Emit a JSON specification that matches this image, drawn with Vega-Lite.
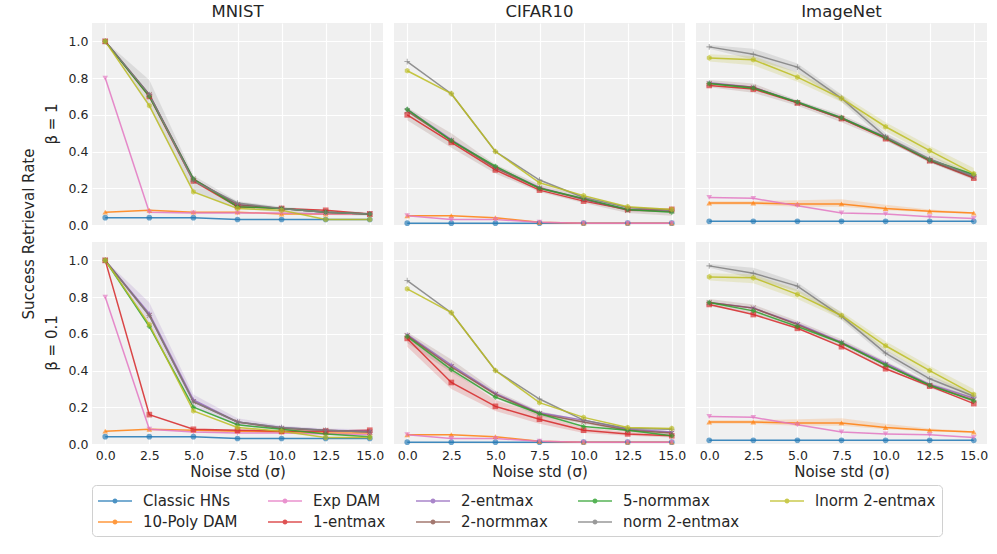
{
"$schema":"https://vega.github.io/schema/vega-lite/v6.json",
"background":"white",
"padding":{"left":21,"top":3,"right":5,"bottom":5},
"config":{"font":"DejaVu Sans","view":{"fill":"#f0f0f0","stroke":null},
"axis":{"labelFontSize":12.5,"labelColor":"#262626","titleFontSize":15,"titleFontWeight":"normal","titleColor":"#262626","gridColor":"#ffffff","gridWidth":1.2,"domain":false,"ticks":false,"labelPadding":3},
"header":{"labelColor":"#262626","titleColor":"#262626"}},
"data":{"values":[
{"b":"β = 1","d":"MNIST","s":"Classic HNs","x":0,"y":0.04},{"b":"β = 1","d":"MNIST","s":"Classic HNs","x":2.5,"y":0.04},{"b":"β = 1","d":"MNIST","s":"Classic HNs","x":5,"y":0.04},{"b":"β = 1","d":"MNIST","s":"Classic HNs","x":7.5,"y":0.03},{"b":"β = 1","d":"MNIST","s":"Classic HNs","x":10,"y":0.03},{"b":"β = 1","d":"MNIST","s":"Classic HNs","x":12.5,"y":0.03},{"b":"β = 1","d":"MNIST","s":"Classic HNs","x":15,"y":0.03},
{"b":"β = 1","d":"MNIST","s":"10-Poly DAM","x":0,"y":0.07},{"b":"β = 1","d":"MNIST","s":"10-Poly DAM","x":2.5,"y":0.08},{"b":"β = 1","d":"MNIST","s":"10-Poly DAM","x":5,"y":0.07},{"b":"β = 1","d":"MNIST","s":"10-Poly DAM","x":7.5,"y":0.07},{"b":"β = 1","d":"MNIST","s":"10-Poly DAM","x":10,"y":0.06},{"b":"β = 1","d":"MNIST","s":"10-Poly DAM","x":12.5,"y":0.06},{"b":"β = 1","d":"MNIST","s":"10-Poly DAM","x":15,"y":0.06},
{"b":"β = 1","d":"MNIST","s":"Exp DAM","x":0,"y":0.8},{"b":"β = 1","d":"MNIST","s":"Exp DAM","x":2.5,"y":0.07},{"b":"β = 1","d":"MNIST","s":"Exp DAM","x":5,"y":0.065},{"b":"β = 1","d":"MNIST","s":"Exp DAM","x":7.5,"y":0.065},{"b":"β = 1","d":"MNIST","s":"Exp DAM","x":10,"y":0.065},{"b":"β = 1","d":"MNIST","s":"Exp DAM","x":12.5,"y":0.06},{"b":"β = 1","d":"MNIST","s":"Exp DAM","x":15,"y":0.06},
{"b":"β = 1","d":"MNIST","s":"1-entmax","x":0,"y":1.0},{"b":"β = 1","d":"MNIST","s":"1-entmax","x":2.5,"y":0.7},{"b":"β = 1","d":"MNIST","s":"1-entmax","x":5,"y":0.24},{"b":"β = 1","d":"MNIST","s":"1-entmax","x":7.5,"y":0.1},{"b":"β = 1","d":"MNIST","s":"1-entmax","x":10,"y":0.09},{"b":"β = 1","d":"MNIST","s":"1-entmax","x":12.5,"y":0.08},{"b":"β = 1","d":"MNIST","s":"1-entmax","x":15,"y":0.06},
{"b":"β = 1","d":"MNIST","s":"2-entmax","x":0,"y":1.0},{"b":"β = 1","d":"MNIST","s":"2-entmax","x":2.5,"y":0.71},{"b":"β = 1","d":"MNIST","s":"2-entmax","x":5,"y":0.25},{"b":"β = 1","d":"MNIST","s":"2-entmax","x":7.5,"y":0.11},{"b":"β = 1","d":"MNIST","s":"2-entmax","x":10,"y":0.09},{"b":"β = 1","d":"MNIST","s":"2-entmax","x":12.5,"y":0.07},{"b":"β = 1","d":"MNIST","s":"2-entmax","x":15,"y":0.06},
{"b":"β = 1","d":"MNIST","s":"2-normmax","x":0,"y":1.0},{"b":"β = 1","d":"MNIST","s":"2-normmax","x":2.5,"y":0.71},{"b":"β = 1","d":"MNIST","s":"2-normmax","x":5,"y":0.25},{"b":"β = 1","d":"MNIST","s":"2-normmax","x":7.5,"y":0.11},{"b":"β = 1","d":"MNIST","s":"2-normmax","x":10,"y":0.09},{"b":"β = 1","d":"MNIST","s":"2-normmax","x":12.5,"y":0.07},{"b":"β = 1","d":"MNIST","s":"2-normmax","x":15,"y":0.06},
{"b":"β = 1","d":"MNIST","s":"5-normmax","x":0,"y":1.0},{"b":"β = 1","d":"MNIST","s":"5-normmax","x":2.5,"y":0.7},{"b":"β = 1","d":"MNIST","s":"5-normmax","x":5,"y":0.25},{"b":"β = 1","d":"MNIST","s":"5-normmax","x":7.5,"y":0.1},{"b":"β = 1","d":"MNIST","s":"5-normmax","x":10,"y":0.09},{"b":"β = 1","d":"MNIST","s":"5-normmax","x":12.5,"y":0.07},{"b":"β = 1","d":"MNIST","s":"5-normmax","x":15,"y":0.06},
{"b":"β = 1","d":"MNIST","s":"norm 2-entmax","x":0,"y":1.0,"lo":1.0,"hi":1.0},{"b":"β = 1","d":"MNIST","s":"norm 2-entmax","x":2.5,"y":0.71,"lo":0.64,"hi":0.79},{"b":"β = 1","d":"MNIST","s":"norm 2-entmax","x":5,"y":0.24,"lo":0.18,"hi":0.27},{"b":"β = 1","d":"MNIST","s":"norm 2-entmax","x":7.5,"y":0.12,"lo":0.09,"hi":0.13},{"b":"β = 1","d":"MNIST","s":"norm 2-entmax","x":10,"y":0.09,"lo":0.07,"hi":0.1},{"b":"β = 1","d":"MNIST","s":"norm 2-entmax","x":12.5,"y":0.07,"lo":0.055,"hi":0.08},{"b":"β = 1","d":"MNIST","s":"norm 2-entmax","x":15,"y":0.06,"lo":0.05,"hi":0.07},
{"b":"β = 1","d":"MNIST","s":"lnorm 2-entmax","x":0,"y":1.0},{"b":"β = 1","d":"MNIST","s":"lnorm 2-entmax","x":2.5,"y":0.65},{"b":"β = 1","d":"MNIST","s":"lnorm 2-entmax","x":5,"y":0.18},{"b":"β = 1","d":"MNIST","s":"lnorm 2-entmax","x":7.5,"y":0.09},{"b":"β = 1","d":"MNIST","s":"lnorm 2-entmax","x":10,"y":0.08},{"b":"β = 1","d":"MNIST","s":"lnorm 2-entmax","x":12.5,"y":0.03},{"b":"β = 1","d":"MNIST","s":"lnorm 2-entmax","x":15,"y":0.03},

{"b":"β = 1","d":"CIFAR10","s":"Classic HNs","x":0,"y":0.01},{"b":"β = 1","d":"CIFAR10","s":"Classic HNs","x":2.5,"y":0.01},{"b":"β = 1","d":"CIFAR10","s":"Classic HNs","x":5,"y":0.01},{"b":"β = 1","d":"CIFAR10","s":"Classic HNs","x":7.5,"y":0.01},{"b":"β = 1","d":"CIFAR10","s":"Classic HNs","x":10,"y":0.01},{"b":"β = 1","d":"CIFAR10","s":"Classic HNs","x":12.5,"y":0.01},{"b":"β = 1","d":"CIFAR10","s":"Classic HNs","x":15,"y":0.01},
{"b":"β = 1","d":"CIFAR10","s":"10-Poly DAM","x":0,"y":0.05},{"b":"β = 1","d":"CIFAR10","s":"10-Poly DAM","x":2.5,"y":0.05},{"b":"β = 1","d":"CIFAR10","s":"10-Poly DAM","x":5,"y":0.04},{"b":"β = 1","d":"CIFAR10","s":"10-Poly DAM","x":7.5,"y":0.015},{"b":"β = 1","d":"CIFAR10","s":"10-Poly DAM","x":10,"y":0.01},{"b":"β = 1","d":"CIFAR10","s":"10-Poly DAM","x":12.5,"y":0.01},{"b":"β = 1","d":"CIFAR10","s":"10-Poly DAM","x":15,"y":0.01},
{"b":"β = 1","d":"CIFAR10","s":"Exp DAM","x":0,"y":0.05},{"b":"β = 1","d":"CIFAR10","s":"Exp DAM","x":2.5,"y":0.03},{"b":"β = 1","d":"CIFAR10","s":"Exp DAM","x":5,"y":0.03},{"b":"β = 1","d":"CIFAR10","s":"Exp DAM","x":7.5,"y":0.015},{"b":"β = 1","d":"CIFAR10","s":"Exp DAM","x":10,"y":0.01},{"b":"β = 1","d":"CIFAR10","s":"Exp DAM","x":12.5,"y":0.01},{"b":"β = 1","d":"CIFAR10","s":"Exp DAM","x":15,"y":0.01},
{"b":"β = 1","d":"CIFAR10","s":"1-entmax","x":0,"y":0.6},{"b":"β = 1","d":"CIFAR10","s":"1-entmax","x":2.5,"y":0.45},{"b":"β = 1","d":"CIFAR10","s":"1-entmax","x":5,"y":0.3},{"b":"β = 1","d":"CIFAR10","s":"1-entmax","x":7.5,"y":0.19},{"b":"β = 1","d":"CIFAR10","s":"1-entmax","x":10,"y":0.13},{"b":"β = 1","d":"CIFAR10","s":"1-entmax","x":12.5,"y":0.085},{"b":"β = 1","d":"CIFAR10","s":"1-entmax","x":15,"y":0.085},
{"b":"β = 1","d":"CIFAR10","s":"2-entmax","x":0,"y":0.63},{"b":"β = 1","d":"CIFAR10","s":"2-entmax","x":2.5,"y":0.465},{"b":"β = 1","d":"CIFAR10","s":"2-entmax","x":5,"y":0.315},{"b":"β = 1","d":"CIFAR10","s":"2-entmax","x":7.5,"y":0.205},{"b":"β = 1","d":"CIFAR10","s":"2-entmax","x":10,"y":0.14},{"b":"β = 1","d":"CIFAR10","s":"2-entmax","x":12.5,"y":0.085},{"b":"β = 1","d":"CIFAR10","s":"2-entmax","x":15,"y":0.075},
{"b":"β = 1","d":"CIFAR10","s":"2-normmax","x":0,"y":0.62,"lo":0.57,"hi":0.64},{"b":"β = 1","d":"CIFAR10","s":"2-normmax","x":2.5,"y":0.46,"lo":0.42,"hi":0.5},{"b":"β = 1","d":"CIFAR10","s":"2-normmax","x":5,"y":0.31,"lo":0.28,"hi":0.33},{"b":"β = 1","d":"CIFAR10","s":"2-normmax","x":7.5,"y":0.2,"lo":0.18,"hi":0.22},{"b":"β = 1","d":"CIFAR10","s":"2-normmax","x":10,"y":0.14,"lo":0.12,"hi":0.16},{"b":"β = 1","d":"CIFAR10","s":"2-normmax","x":12.5,"y":0.08,"lo":0.065,"hi":0.1},{"b":"β = 1","d":"CIFAR10","s":"2-normmax","x":15,"y":0.075,"lo":0.05,"hi":0.09},
{"b":"β = 1","d":"CIFAR10","s":"5-normmax","x":0,"y":0.63},{"b":"β = 1","d":"CIFAR10","s":"5-normmax","x":2.5,"y":0.46},{"b":"β = 1","d":"CIFAR10","s":"5-normmax","x":5,"y":0.32},{"b":"β = 1","d":"CIFAR10","s":"5-normmax","x":7.5,"y":0.2},{"b":"β = 1","d":"CIFAR10","s":"5-normmax","x":10,"y":0.145},{"b":"β = 1","d":"CIFAR10","s":"5-normmax","x":12.5,"y":0.085},{"b":"β = 1","d":"CIFAR10","s":"5-normmax","x":15,"y":0.07},
{"b":"β = 1","d":"CIFAR10","s":"norm 2-entmax","x":0,"y":0.89},{"b":"β = 1","d":"CIFAR10","s":"norm 2-entmax","x":2.5,"y":0.715},{"b":"β = 1","d":"CIFAR10","s":"norm 2-entmax","x":5,"y":0.4},{"b":"β = 1","d":"CIFAR10","s":"norm 2-entmax","x":7.5,"y":0.245},{"b":"β = 1","d":"CIFAR10","s":"norm 2-entmax","x":10,"y":0.15},{"b":"β = 1","d":"CIFAR10","s":"norm 2-entmax","x":12.5,"y":0.095},{"b":"β = 1","d":"CIFAR10","s":"norm 2-entmax","x":15,"y":0.08},
{"b":"β = 1","d":"CIFAR10","s":"lnorm 2-entmax","x":0,"y":0.84},{"b":"β = 1","d":"CIFAR10","s":"lnorm 2-entmax","x":2.5,"y":0.715},{"b":"β = 1","d":"CIFAR10","s":"lnorm 2-entmax","x":5,"y":0.4},{"b":"β = 1","d":"CIFAR10","s":"lnorm 2-entmax","x":7.5,"y":0.23},{"b":"β = 1","d":"CIFAR10","s":"lnorm 2-entmax","x":10,"y":0.16},{"b":"β = 1","d":"CIFAR10","s":"lnorm 2-entmax","x":12.5,"y":0.1},{"b":"β = 1","d":"CIFAR10","s":"lnorm 2-entmax","x":15,"y":0.085},

{"b":"β = 1","d":"ImageNet","s":"Classic HNs","x":0,"y":0.02},{"b":"β = 1","d":"ImageNet","s":"Classic HNs","x":2.5,"y":0.02},{"b":"β = 1","d":"ImageNet","s":"Classic HNs","x":5,"y":0.02},{"b":"β = 1","d":"ImageNet","s":"Classic HNs","x":7.5,"y":0.02},{"b":"β = 1","d":"ImageNet","s":"Classic HNs","x":10,"y":0.02},{"b":"β = 1","d":"ImageNet","s":"Classic HNs","x":12.5,"y":0.02},{"b":"β = 1","d":"ImageNet","s":"Classic HNs","x":15,"y":0.02},
{"b":"β = 1","d":"ImageNet","s":"10-Poly DAM","x":0,"y":0.12,"lo":0.11,"hi":0.13},{"b":"β = 1","d":"ImageNet","s":"10-Poly DAM","x":2.5,"y":0.12,"lo":0.11,"hi":0.13},{"b":"β = 1","d":"ImageNet","s":"10-Poly DAM","x":5,"y":0.115,"lo":0.1,"hi":0.135},{"b":"β = 1","d":"ImageNet","s":"10-Poly DAM","x":7.5,"y":0.115,"lo":0.1,"hi":0.14},{"b":"β = 1","d":"ImageNet","s":"10-Poly DAM","x":10,"y":0.09,"lo":0.08,"hi":0.11},{"b":"β = 1","d":"ImageNet","s":"10-Poly DAM","x":12.5,"y":0.075,"lo":0.07,"hi":0.085},{"b":"β = 1","d":"ImageNet","s":"10-Poly DAM","x":15,"y":0.065,"lo":0.06,"hi":0.07},
{"b":"β = 1","d":"ImageNet","s":"Exp DAM","x":0,"y":0.15},{"b":"β = 1","d":"ImageNet","s":"Exp DAM","x":2.5,"y":0.145},{"b":"β = 1","d":"ImageNet","s":"Exp DAM","x":5,"y":0.105},{"b":"β = 1","d":"ImageNet","s":"Exp DAM","x":7.5,"y":0.065},{"b":"β = 1","d":"ImageNet","s":"Exp DAM","x":10,"y":0.06},{"b":"β = 1","d":"ImageNet","s":"Exp DAM","x":12.5,"y":0.045},{"b":"β = 1","d":"ImageNet","s":"Exp DAM","x":15,"y":0.035},
{"b":"β = 1","d":"ImageNet","s":"1-entmax","x":0,"y":0.76},{"b":"β = 1","d":"ImageNet","s":"1-entmax","x":2.5,"y":0.74},{"b":"β = 1","d":"ImageNet","s":"1-entmax","x":5,"y":0.665},{"b":"β = 1","d":"ImageNet","s":"1-entmax","x":7.5,"y":0.58},{"b":"β = 1","d":"ImageNet","s":"1-entmax","x":10,"y":0.47},{"b":"β = 1","d":"ImageNet","s":"1-entmax","x":12.5,"y":0.35},{"b":"β = 1","d":"ImageNet","s":"1-entmax","x":15,"y":0.255},
{"b":"β = 1","d":"ImageNet","s":"2-entmax","x":0,"y":0.775},{"b":"β = 1","d":"ImageNet","s":"2-entmax","x":2.5,"y":0.75},{"b":"β = 1","d":"ImageNet","s":"2-entmax","x":5,"y":0.67},{"b":"β = 1","d":"ImageNet","s":"2-entmax","x":7.5,"y":0.585},{"b":"β = 1","d":"ImageNet","s":"2-entmax","x":10,"y":0.48},{"b":"β = 1","d":"ImageNet","s":"2-entmax","x":12.5,"y":0.355},{"b":"β = 1","d":"ImageNet","s":"2-entmax","x":15,"y":0.27},
{"b":"β = 1","d":"ImageNet","s":"2-normmax","x":0,"y":0.77,"lo":0.75,"hi":0.79},{"b":"β = 1","d":"ImageNet","s":"2-normmax","x":2.5,"y":0.75,"lo":0.72,"hi":0.77},{"b":"β = 1","d":"ImageNet","s":"2-normmax","x":5,"y":0.665,"lo":0.65,"hi":0.68},{"b":"β = 1","d":"ImageNet","s":"2-normmax","x":7.5,"y":0.58,"lo":0.56,"hi":0.6},{"b":"β = 1","d":"ImageNet","s":"2-normmax","x":10,"y":0.475,"lo":0.46,"hi":0.49},{"b":"β = 1","d":"ImageNet","s":"2-normmax","x":12.5,"y":0.35,"lo":0.34,"hi":0.365},{"b":"β = 1","d":"ImageNet","s":"2-normmax","x":15,"y":0.26,"lo":0.245,"hi":0.275},
{"b":"β = 1","d":"ImageNet","s":"5-normmax","x":0,"y":0.77},{"b":"β = 1","d":"ImageNet","s":"5-normmax","x":2.5,"y":0.745},{"b":"β = 1","d":"ImageNet","s":"5-normmax","x":5,"y":0.67},{"b":"β = 1","d":"ImageNet","s":"5-normmax","x":7.5,"y":0.585},{"b":"β = 1","d":"ImageNet","s":"5-normmax","x":10,"y":0.475},{"b":"β = 1","d":"ImageNet","s":"5-normmax","x":12.5,"y":0.355},{"b":"β = 1","d":"ImageNet","s":"5-normmax","x":15,"y":0.275},
{"b":"β = 1","d":"ImageNet","s":"norm 2-entmax","x":0,"y":0.97,"lo":0.96,"hi":0.98},{"b":"β = 1","d":"ImageNet","s":"norm 2-entmax","x":2.5,"y":0.93,"lo":0.9,"hi":0.96},{"b":"β = 1","d":"ImageNet","s":"norm 2-entmax","x":5,"y":0.86,"lo":0.83,"hi":0.88},{"b":"β = 1","d":"ImageNet","s":"norm 2-entmax","x":7.5,"y":0.69,"lo":0.67,"hi":0.71},{"b":"β = 1","d":"ImageNet","s":"norm 2-entmax","x":10,"y":0.48,"lo":0.46,"hi":0.5},{"b":"β = 1","d":"ImageNet","s":"norm 2-entmax","x":12.5,"y":0.36,"lo":0.34,"hi":0.38},{"b":"β = 1","d":"ImageNet","s":"norm 2-entmax","x":15,"y":0.265,"lo":0.25,"hi":0.28},
{"b":"β = 1","d":"ImageNet","s":"lnorm 2-entmax","x":0,"y":0.91,"lo":0.89,"hi":0.93},{"b":"β = 1","d":"ImageNet","s":"lnorm 2-entmax","x":2.5,"y":0.9,"lo":0.87,"hi":0.92},{"b":"β = 1","d":"ImageNet","s":"lnorm 2-entmax","x":5,"y":0.805,"lo":0.78,"hi":0.83},{"b":"β = 1","d":"ImageNet","s":"lnorm 2-entmax","x":7.5,"y":0.69,"lo":0.67,"hi":0.71},{"b":"β = 1","d":"ImageNet","s":"lnorm 2-entmax","x":10,"y":0.535,"lo":0.51,"hi":0.56},{"b":"β = 1","d":"ImageNet","s":"lnorm 2-entmax","x":12.5,"y":0.405,"lo":0.38,"hi":0.43},{"b":"β = 1","d":"ImageNet","s":"lnorm 2-entmax","x":15,"y":0.28,"lo":0.25,"hi":0.31},

{"b":"β = 0.1","d":"MNIST","s":"Classic HNs","x":0,"y":0.04},{"b":"β = 0.1","d":"MNIST","s":"Classic HNs","x":2.5,"y":0.04},{"b":"β = 0.1","d":"MNIST","s":"Classic HNs","x":5,"y":0.04},{"b":"β = 0.1","d":"MNIST","s":"Classic HNs","x":7.5,"y":0.03},{"b":"β = 0.1","d":"MNIST","s":"Classic HNs","x":10,"y":0.03},{"b":"β = 0.1","d":"MNIST","s":"Classic HNs","x":12.5,"y":0.03},{"b":"β = 0.1","d":"MNIST","s":"Classic HNs","x":15,"y":0.03},
{"b":"β = 0.1","d":"MNIST","s":"10-Poly DAM","x":0,"y":0.07},{"b":"β = 0.1","d":"MNIST","s":"10-Poly DAM","x":2.5,"y":0.08},{"b":"β = 0.1","d":"MNIST","s":"10-Poly DAM","x":5,"y":0.075},{"b":"β = 0.1","d":"MNIST","s":"10-Poly DAM","x":7.5,"y":0.07},{"b":"β = 0.1","d":"MNIST","s":"10-Poly DAM","x":10,"y":0.065},{"b":"β = 0.1","d":"MNIST","s":"10-Poly DAM","x":12.5,"y":0.06},{"b":"β = 0.1","d":"MNIST","s":"10-Poly DAM","x":15,"y":0.06},
{"b":"β = 0.1","d":"MNIST","s":"Exp DAM","x":0,"y":0.8},{"b":"β = 0.1","d":"MNIST","s":"Exp DAM","x":2.5,"y":0.08},{"b":"β = 0.1","d":"MNIST","s":"Exp DAM","x":5,"y":0.065},{"b":"β = 0.1","d":"MNIST","s":"Exp DAM","x":7.5,"y":0.06},{"b":"β = 0.1","d":"MNIST","s":"Exp DAM","x":10,"y":0.06},{"b":"β = 0.1","d":"MNIST","s":"Exp DAM","x":12.5,"y":0.055},{"b":"β = 0.1","d":"MNIST","s":"Exp DAM","x":15,"y":0.05},
{"b":"β = 0.1","d":"MNIST","s":"1-entmax","x":0,"y":1.0},{"b":"β = 0.1","d":"MNIST","s":"1-entmax","x":2.5,"y":0.16},{"b":"β = 0.1","d":"MNIST","s":"1-entmax","x":5,"y":0.08},{"b":"β = 0.1","d":"MNIST","s":"1-entmax","x":7.5,"y":0.075},{"b":"β = 0.1","d":"MNIST","s":"1-entmax","x":10,"y":0.07},{"b":"β = 0.1","d":"MNIST","s":"1-entmax","x":12.5,"y":0.07},{"b":"β = 0.1","d":"MNIST","s":"1-entmax","x":15,"y":0.075},
{"b":"β = 0.1","d":"MNIST","s":"2-entmax","x":0,"y":1.0,"lo":1.0,"hi":1.0},{"b":"β = 0.1","d":"MNIST","s":"2-entmax","x":2.5,"y":0.71,"lo":0.65,"hi":0.77},{"b":"β = 0.1","d":"MNIST","s":"2-entmax","x":5,"y":0.24,"lo":0.2,"hi":0.27},{"b":"β = 0.1","d":"MNIST","s":"2-entmax","x":7.5,"y":0.12,"lo":0.1,"hi":0.14},{"b":"β = 0.1","d":"MNIST","s":"2-entmax","x":10,"y":0.09,"lo":0.075,"hi":0.1},{"b":"β = 0.1","d":"MNIST","s":"2-entmax","x":12.5,"y":0.075,"lo":0.065,"hi":0.085},{"b":"β = 0.1","d":"MNIST","s":"2-entmax","x":15,"y":0.07,"lo":0.06,"hi":0.08},
{"b":"β = 0.1","d":"MNIST","s":"2-normmax","x":0,"y":1.0},{"b":"β = 0.1","d":"MNIST","s":"2-normmax","x":2.5,"y":0.7},{"b":"β = 0.1","d":"MNIST","s":"2-normmax","x":5,"y":0.23},{"b":"β = 0.1","d":"MNIST","s":"2-normmax","x":7.5,"y":0.12},{"b":"β = 0.1","d":"MNIST","s":"2-normmax","x":10,"y":0.085},{"b":"β = 0.1","d":"MNIST","s":"2-normmax","x":12.5,"y":0.075},{"b":"β = 0.1","d":"MNIST","s":"2-normmax","x":15,"y":0.065},
{"b":"β = 0.1","d":"MNIST","s":"5-normmax","x":0,"y":1.0},{"b":"β = 0.1","d":"MNIST","s":"5-normmax","x":2.5,"y":0.64},{"b":"β = 0.1","d":"MNIST","s":"5-normmax","x":5,"y":0.2},{"b":"β = 0.1","d":"MNIST","s":"5-normmax","x":7.5,"y":0.105},{"b":"β = 0.1","d":"MNIST","s":"5-normmax","x":10,"y":0.08},{"b":"β = 0.1","d":"MNIST","s":"5-normmax","x":12.5,"y":0.055},{"b":"β = 0.1","d":"MNIST","s":"5-normmax","x":15,"y":0.04},
{"b":"β = 0.1","d":"MNIST","s":"norm 2-entmax","x":0,"y":1.0},{"b":"β = 0.1","d":"MNIST","s":"norm 2-entmax","x":2.5,"y":0.7},{"b":"β = 0.1","d":"MNIST","s":"norm 2-entmax","x":5,"y":0.23},{"b":"β = 0.1","d":"MNIST","s":"norm 2-entmax","x":7.5,"y":0.12},{"b":"β = 0.1","d":"MNIST","s":"norm 2-entmax","x":10,"y":0.09},{"b":"β = 0.1","d":"MNIST","s":"norm 2-entmax","x":12.5,"y":0.075},{"b":"β = 0.1","d":"MNIST","s":"norm 2-entmax","x":15,"y":0.065},
{"b":"β = 0.1","d":"MNIST","s":"lnorm 2-entmax","x":0,"y":1.0},{"b":"β = 0.1","d":"MNIST","s":"lnorm 2-entmax","x":2.5,"y":0.65},{"b":"β = 0.1","d":"MNIST","s":"lnorm 2-entmax","x":5,"y":0.18},{"b":"β = 0.1","d":"MNIST","s":"lnorm 2-entmax","x":7.5,"y":0.09},{"b":"β = 0.1","d":"MNIST","s":"lnorm 2-entmax","x":10,"y":0.07},{"b":"β = 0.1","d":"MNIST","s":"lnorm 2-entmax","x":12.5,"y":0.035},{"b":"β = 0.1","d":"MNIST","s":"lnorm 2-entmax","x":15,"y":0.035},

{"b":"β = 0.1","d":"CIFAR10","s":"Classic HNs","x":0,"y":0.01},{"b":"β = 0.1","d":"CIFAR10","s":"Classic HNs","x":2.5,"y":0.01},{"b":"β = 0.1","d":"CIFAR10","s":"Classic HNs","x":5,"y":0.01},{"b":"β = 0.1","d":"CIFAR10","s":"Classic HNs","x":7.5,"y":0.01},{"b":"β = 0.1","d":"CIFAR10","s":"Classic HNs","x":10,"y":0.01},{"b":"β = 0.1","d":"CIFAR10","s":"Classic HNs","x":12.5,"y":0.01},{"b":"β = 0.1","d":"CIFAR10","s":"Classic HNs","x":15,"y":0.01},
{"b":"β = 0.1","d":"CIFAR10","s":"10-Poly DAM","x":0,"y":0.05},{"b":"β = 0.1","d":"CIFAR10","s":"10-Poly DAM","x":2.5,"y":0.05},{"b":"β = 0.1","d":"CIFAR10","s":"10-Poly DAM","x":5,"y":0.04},{"b":"β = 0.1","d":"CIFAR10","s":"10-Poly DAM","x":7.5,"y":0.015},{"b":"β = 0.1","d":"CIFAR10","s":"10-Poly DAM","x":10,"y":0.01},{"b":"β = 0.1","d":"CIFAR10","s":"10-Poly DAM","x":12.5,"y":0.01},{"b":"β = 0.1","d":"CIFAR10","s":"10-Poly DAM","x":15,"y":0.01},
{"b":"β = 0.1","d":"CIFAR10","s":"Exp DAM","x":0,"y":0.05},{"b":"β = 0.1","d":"CIFAR10","s":"Exp DAM","x":2.5,"y":0.03},{"b":"β = 0.1","d":"CIFAR10","s":"Exp DAM","x":5,"y":0.03},{"b":"β = 0.1","d":"CIFAR10","s":"Exp DAM","x":7.5,"y":0.015},{"b":"β = 0.1","d":"CIFAR10","s":"Exp DAM","x":10,"y":0.01},{"b":"β = 0.1","d":"CIFAR10","s":"Exp DAM","x":12.5,"y":0.01},{"b":"β = 0.1","d":"CIFAR10","s":"Exp DAM","x":15,"y":0.01},
{"b":"β = 0.1","d":"CIFAR10","s":"1-entmax","x":0,"y":0.575,"lo":0.53,"hi":0.6},{"b":"β = 0.1","d":"CIFAR10","s":"1-entmax","x":2.5,"y":0.335,"lo":0.3,"hi":0.4},{"b":"β = 0.1","d":"CIFAR10","s":"1-entmax","x":5,"y":0.205,"lo":0.18,"hi":0.24},{"b":"β = 0.1","d":"CIFAR10","s":"1-entmax","x":7.5,"y":0.135,"lo":0.11,"hi":0.16},{"b":"β = 0.1","d":"CIFAR10","s":"1-entmax","x":10,"y":0.075,"lo":0.06,"hi":0.09},{"b":"β = 0.1","d":"CIFAR10","s":"1-entmax","x":12.5,"y":0.055,"lo":0.045,"hi":0.065},{"b":"β = 0.1","d":"CIFAR10","s":"1-entmax","x":15,"y":0.045,"lo":0.035,"hi":0.055},
{"b":"β = 0.1","d":"CIFAR10","s":"2-entmax","x":0,"y":0.595},{"b":"β = 0.1","d":"CIFAR10","s":"2-entmax","x":2.5,"y":0.43},{"b":"β = 0.1","d":"CIFAR10","s":"2-entmax","x":5,"y":0.275},{"b":"β = 0.1","d":"CIFAR10","s":"2-entmax","x":7.5,"y":0.17},{"b":"β = 0.1","d":"CIFAR10","s":"2-entmax","x":10,"y":0.13},{"b":"β = 0.1","d":"CIFAR10","s":"2-entmax","x":12.5,"y":0.08},{"b":"β = 0.1","d":"CIFAR10","s":"2-entmax","x":15,"y":0.065},
{"b":"β = 0.1","d":"CIFAR10","s":"2-normmax","x":0,"y":0.59,"lo":0.55,"hi":0.61},{"b":"β = 0.1","d":"CIFAR10","s":"2-normmax","x":2.5,"y":0.42,"lo":0.39,"hi":0.46},{"b":"β = 0.1","d":"CIFAR10","s":"2-normmax","x":5,"y":0.27,"lo":0.25,"hi":0.29},{"b":"β = 0.1","d":"CIFAR10","s":"2-normmax","x":7.5,"y":0.165,"lo":0.15,"hi":0.18},{"b":"β = 0.1","d":"CIFAR10","s":"2-normmax","x":10,"y":0.12,"lo":0.11,"hi":0.13},{"b":"β = 0.1","d":"CIFAR10","s":"2-normmax","x":12.5,"y":0.075,"lo":0.065,"hi":0.085},{"b":"β = 0.1","d":"CIFAR10","s":"2-normmax","x":15,"y":0.06,"lo":0.05,"hi":0.07},
{"b":"β = 0.1","d":"CIFAR10","s":"5-normmax","x":0,"y":0.585},{"b":"β = 0.1","d":"CIFAR10","s":"5-normmax","x":2.5,"y":0.405},{"b":"β = 0.1","d":"CIFAR10","s":"5-normmax","x":5,"y":0.255},{"b":"β = 0.1","d":"CIFAR10","s":"5-normmax","x":7.5,"y":0.165},{"b":"β = 0.1","d":"CIFAR10","s":"5-normmax","x":10,"y":0.095},{"b":"β = 0.1","d":"CIFAR10","s":"5-normmax","x":12.5,"y":0.075},{"b":"β = 0.1","d":"CIFAR10","s":"5-normmax","x":15,"y":0.045},
{"b":"β = 0.1","d":"CIFAR10","s":"norm 2-entmax","x":0,"y":0.89},{"b":"β = 0.1","d":"CIFAR10","s":"norm 2-entmax","x":2.5,"y":0.715},{"b":"β = 0.1","d":"CIFAR10","s":"norm 2-entmax","x":5,"y":0.4},{"b":"β = 0.1","d":"CIFAR10","s":"norm 2-entmax","x":7.5,"y":0.245},{"b":"β = 0.1","d":"CIFAR10","s":"norm 2-entmax","x":10,"y":0.13},{"b":"β = 0.1","d":"CIFAR10","s":"norm 2-entmax","x":12.5,"y":0.085},{"b":"β = 0.1","d":"CIFAR10","s":"norm 2-entmax","x":15,"y":0.08},
{"b":"β = 0.1","d":"CIFAR10","s":"lnorm 2-entmax","x":0,"y":0.845},{"b":"β = 0.1","d":"CIFAR10","s":"lnorm 2-entmax","x":2.5,"y":0.715},{"b":"β = 0.1","d":"CIFAR10","s":"lnorm 2-entmax","x":5,"y":0.4},{"b":"β = 0.1","d":"CIFAR10","s":"lnorm 2-entmax","x":7.5,"y":0.225},{"b":"β = 0.1","d":"CIFAR10","s":"lnorm 2-entmax","x":10,"y":0.145},{"b":"β = 0.1","d":"CIFAR10","s":"lnorm 2-entmax","x":12.5,"y":0.09},{"b":"β = 0.1","d":"CIFAR10","s":"lnorm 2-entmax","x":15,"y":0.085},

{"b":"β = 0.1","d":"ImageNet","s":"Classic HNs","x":0,"y":0.02},{"b":"β = 0.1","d":"ImageNet","s":"Classic HNs","x":2.5,"y":0.02},{"b":"β = 0.1","d":"ImageNet","s":"Classic HNs","x":5,"y":0.02},{"b":"β = 0.1","d":"ImageNet","s":"Classic HNs","x":7.5,"y":0.02},{"b":"β = 0.1","d":"ImageNet","s":"Classic HNs","x":10,"y":0.02},{"b":"β = 0.1","d":"ImageNet","s":"Classic HNs","x":12.5,"y":0.02},{"b":"β = 0.1","d":"ImageNet","s":"Classic HNs","x":15,"y":0.02},
{"b":"β = 0.1","d":"ImageNet","s":"10-Poly DAM","x":0,"y":0.12,"lo":0.11,"hi":0.13},{"b":"β = 0.1","d":"ImageNet","s":"10-Poly DAM","x":2.5,"y":0.12,"lo":0.11,"hi":0.13},{"b":"β = 0.1","d":"ImageNet","s":"10-Poly DAM","x":5,"y":0.115,"lo":0.1,"hi":0.135},{"b":"β = 0.1","d":"ImageNet","s":"10-Poly DAM","x":7.5,"y":0.115,"lo":0.1,"hi":0.14},{"b":"β = 0.1","d":"ImageNet","s":"10-Poly DAM","x":10,"y":0.09,"lo":0.08,"hi":0.11},{"b":"β = 0.1","d":"ImageNet","s":"10-Poly DAM","x":12.5,"y":0.075,"lo":0.07,"hi":0.085},{"b":"β = 0.1","d":"ImageNet","s":"10-Poly DAM","x":15,"y":0.065,"lo":0.06,"hi":0.07},
{"b":"β = 0.1","d":"ImageNet","s":"Exp DAM","x":0,"y":0.15},{"b":"β = 0.1","d":"ImageNet","s":"Exp DAM","x":2.5,"y":0.145},{"b":"β = 0.1","d":"ImageNet","s":"Exp DAM","x":5,"y":0.105},{"b":"β = 0.1","d":"ImageNet","s":"Exp DAM","x":7.5,"y":0.065},{"b":"β = 0.1","d":"ImageNet","s":"Exp DAM","x":10,"y":0.055},{"b":"β = 0.1","d":"ImageNet","s":"Exp DAM","x":12.5,"y":0.05},{"b":"β = 0.1","d":"ImageNet","s":"Exp DAM","x":15,"y":0.035},
{"b":"β = 0.1","d":"ImageNet","s":"1-entmax","x":0,"y":0.76},{"b":"β = 0.1","d":"ImageNet","s":"1-entmax","x":2.5,"y":0.705},{"b":"β = 0.1","d":"ImageNet","s":"1-entmax","x":5,"y":0.63},{"b":"β = 0.1","d":"ImageNet","s":"1-entmax","x":7.5,"y":0.53},{"b":"β = 0.1","d":"ImageNet","s":"1-entmax","x":10,"y":0.41},{"b":"β = 0.1","d":"ImageNet","s":"1-entmax","x":12.5,"y":0.315},{"b":"β = 0.1","d":"ImageNet","s":"1-entmax","x":15,"y":0.22},
{"b":"β = 0.1","d":"ImageNet","s":"2-entmax","x":0,"y":0.77},{"b":"β = 0.1","d":"ImageNet","s":"2-entmax","x":2.5,"y":0.74},{"b":"β = 0.1","d":"ImageNet","s":"2-entmax","x":5,"y":0.655},{"b":"β = 0.1","d":"ImageNet","s":"2-entmax","x":7.5,"y":0.555},{"b":"β = 0.1","d":"ImageNet","s":"2-entmax","x":10,"y":0.44},{"b":"β = 0.1","d":"ImageNet","s":"2-entmax","x":12.5,"y":0.325},{"b":"β = 0.1","d":"ImageNet","s":"2-entmax","x":15,"y":0.25},
{"b":"β = 0.1","d":"ImageNet","s":"2-normmax","x":0,"y":0.77,"lo":0.75,"hi":0.79},{"b":"β = 0.1","d":"ImageNet","s":"2-normmax","x":2.5,"y":0.74,"lo":0.71,"hi":0.76},{"b":"β = 0.1","d":"ImageNet","s":"2-normmax","x":5,"y":0.65,"lo":0.63,"hi":0.67},{"b":"β = 0.1","d":"ImageNet","s":"2-normmax","x":7.5,"y":0.55,"lo":0.53,"hi":0.57},{"b":"β = 0.1","d":"ImageNet","s":"2-normmax","x":10,"y":0.43,"lo":0.41,"hi":0.45},{"b":"β = 0.1","d":"ImageNet","s":"2-normmax","x":12.5,"y":0.32,"lo":0.305,"hi":0.335},{"b":"β = 0.1","d":"ImageNet","s":"2-normmax","x":15,"y":0.24,"lo":0.225,"hi":0.255},
{"b":"β = 0.1","d":"ImageNet","s":"5-normmax","x":0,"y":0.77},{"b":"β = 0.1","d":"ImageNet","s":"5-normmax","x":2.5,"y":0.725},{"b":"β = 0.1","d":"ImageNet","s":"5-normmax","x":5,"y":0.64},{"b":"β = 0.1","d":"ImageNet","s":"5-normmax","x":7.5,"y":0.55},{"b":"β = 0.1","d":"ImageNet","s":"5-normmax","x":10,"y":0.43},{"b":"β = 0.1","d":"ImageNet","s":"5-normmax","x":12.5,"y":0.32},{"b":"β = 0.1","d":"ImageNet","s":"5-normmax","x":15,"y":0.235},
{"b":"β = 0.1","d":"ImageNet","s":"norm 2-entmax","x":0,"y":0.97,"lo":0.96,"hi":0.98},{"b":"β = 0.1","d":"ImageNet","s":"norm 2-entmax","x":2.5,"y":0.93,"lo":0.9,"hi":0.96},{"b":"β = 0.1","d":"ImageNet","s":"norm 2-entmax","x":5,"y":0.86,"lo":0.83,"hi":0.88},{"b":"β = 0.1","d":"ImageNet","s":"norm 2-entmax","x":7.5,"y":0.695,"lo":0.675,"hi":0.715},{"b":"β = 0.1","d":"ImageNet","s":"norm 2-entmax","x":10,"y":0.495,"lo":0.475,"hi":0.515},{"b":"β = 0.1","d":"ImageNet","s":"norm 2-entmax","x":12.5,"y":0.355,"lo":0.335,"hi":0.375},{"b":"β = 0.1","d":"ImageNet","s":"norm 2-entmax","x":15,"y":0.26,"lo":0.245,"hi":0.275},
{"b":"β = 0.1","d":"ImageNet","s":"lnorm 2-entmax","x":0,"y":0.91,"lo":0.89,"hi":0.93},{"b":"β = 0.1","d":"ImageNet","s":"lnorm 2-entmax","x":2.5,"y":0.905,"lo":0.875,"hi":0.925},{"b":"β = 0.1","d":"ImageNet","s":"lnorm 2-entmax","x":5,"y":0.815,"lo":0.79,"hi":0.84},{"b":"β = 0.1","d":"ImageNet","s":"lnorm 2-entmax","x":7.5,"y":0.7,"lo":0.68,"hi":0.72},{"b":"β = 0.1","d":"ImageNet","s":"lnorm 2-entmax","x":10,"y":0.535,"lo":0.51,"hi":0.56},{"b":"β = 0.1","d":"ImageNet","s":"lnorm 2-entmax","x":12.5,"y":0.4,"lo":0.375,"hi":0.425},{"b":"β = 0.1","d":"ImageNet","s":"lnorm 2-entmax","x":15,"y":0.27,"lo":0.245,"hi":0.3}
]},
"facet":{
"row":{"field":"b","type":"nominal","sort":["β = 1","β = 0.1"],"header":{"title":"Success Retrieval Rate","titleOrient":"left","titleFontSize":15,"titleFontWeight":"normal","titlePadding":-2,"labelOrient":"left","labelAngle":-90,"labelFontSize":15,"labelPadding":1}},
"column":{"field":"d","type":"nominal","sort":["MNIST","CIFAR10","ImageNet"],"header":{"title":null,"labelFontSize":16.5,"labelPadding":3}}
},
"spacing":{"row":15,"column":11},
"spec":{"width":291,"height":202,
"encoding":{
"x":{"field":"x","type":"quantitative","scale":{"domain":[-0.75,15.75],"nice":false,"zero":false},"axis":{"title":"Noise std (σ)","values":[0,2.5,5,7.5,10,12.5,15],"format":".1f","labelFlush":false,"titlePadding":3,"labelPadding":3}},
"y":{"field":"y","type":"quantitative","scale":{"domain":[0,1.1],"nice":false},"axis":{"title":null,"values":[0,0.2,0.4,0.6,0.8,1.0],"format":".1f","minExtent":0,"labelPadding":4}},
"color":{"field":"s","type":"nominal","scale":{"domain":["Classic HNs","Exp DAM","2-entmax","5-normmax","lnorm 2-entmax","10-Poly DAM","1-entmax","2-normmax","norm 2-entmax"],"range":["#1f77b4","#e377c2","#9467bd","#2ca02c","#bcbd22","#ff7f0e","#d62728","#8c564b","#7f7f7f"]},
"legend":{"title":null,"orient":"bottom","direction":"horizontal","columns":5,"offset":5,"labelFontSize":15,"labelColor":"#262626","columnPadding":30,"rowPadding":3,"strokeColor":"#d0d0d0","fillColor":"white","padding":6,"cornerRadius":4,"symbolType":"M-1.7,-0.075L1.7,-0.075L1.7,0.075L-1.7,0.075Z M-0.25,0A0.25,0.25 0 1 1 0.25,0A0.25,0.25 0 1 1 -0.25,0Z","symbolSize":400,"symbolOffset":7,"labelOffset":18,"symbolOpacity":0.8,
"encode":{"symbols":{"update":{"shape":{"value":"M-1.7,-0.075L1.7,-0.075L1.7,0.075L-1.7,0.075Z M-0.25,0A0.25,0.25 0 1 1 0.25,0A0.25,0.25 0 1 1 -0.25,0Z"},"size":{"value":400},"fill":{"scale":"color","field":"value"},"stroke":{"value":"transparent"},"strokeWidth":{"value":0}}}}}}
},
"layer":[
{"transform":[{"filter":"isValid(datum.lo)"}],"mark":{"type":"area","opacity":0.18},"encoding":{"y":{"field":"lo","type":"quantitative","axis":{"title":null}},"y2":{"field":"hi"}}},
{"mark":{"type":"line","strokeWidth":1.5,"opacity":0.85},"encoding":{}},
{"mark":{"type":"point","filled":true,"size":32,"opacity":0.65},"encoding":{
"shape":{"condition":[
{"test":"datum.s === 'Exp DAM'","value":"triangle-down"},
{"test":"datum.s === '10-Poly DAM'","value":"triangle-up"},
{"test":"datum.s === '1-entmax'","value":"square"},
{"test":"datum.s === '2-entmax'","value":"M0,-1.1L0.25,-0.34L1.05,-0.34L0.4,0.13L0.65,0.9L0,0.42L-0.65,0.9L-0.4,0.13L-1.05,-0.34L-0.25,-0.34Z"},
{"test":"datum.s === '2-normmax'","value":"M-1,-0.8L-0.8,-1L0,-0.2L0.8,-1L1,-0.8L0.2,0L1,0.8L0.8,1L0,0.2L-0.8,1L-1,0.8L-0.2,0Z"},
{"test":"datum.s === '5-normmax'","value":"diamond"},
{"test":"datum.s === 'norm 2-entmax'","value":"M-0.18,-1L0.18,-1L0.18,-0.18L1,-0.18L1,0.18L0.18,0.18L0.18,1L-0.18,1L-0.18,0.18L-1,0.18L-1,-0.18L-0.18,-0.18Z"},
{"test":"datum.s === 'lnorm 2-entmax'","value":"M0,-1L0.866,-0.5L0.866,0.5L0,1L-0.866,0.5L-0.866,-0.5Z"}
],"value":"circle"}}}
]}
}
